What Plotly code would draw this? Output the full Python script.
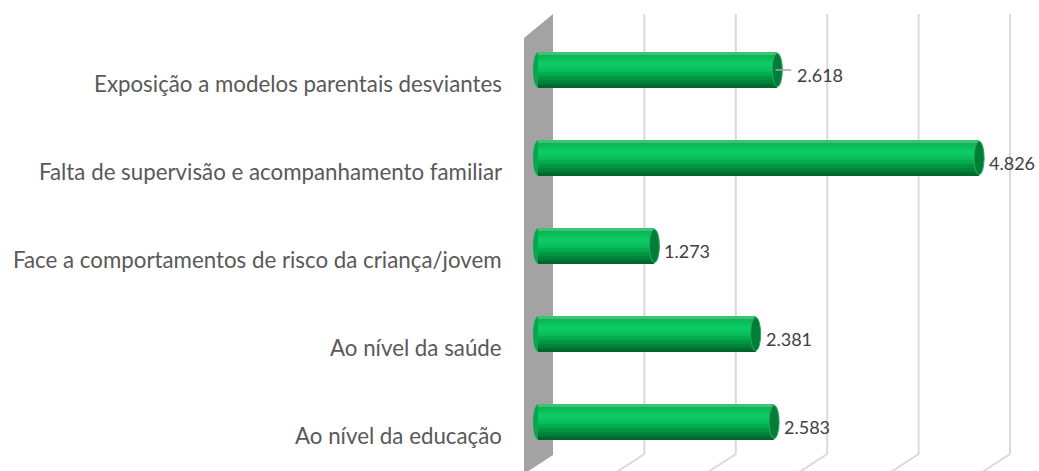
import plotly.graph_objects as go

# ---- data ----
categories = [
    "Ao nível da educação",
    "Ao nível da saúde",
    "Face a comportamentos de risco da criança/jovem",
    "Falta de supervisão e acompanhamento familiar",
    "Exposição a modelos parentais desviantes",
]
values = [2583, 2381, 1273, 4826, 2618]
x_ticks = [0, 1000, 2000, 3000, 4000, 5000]

# ---- style / geometry ----
W, H = 1039, 471
ML = 510
PX_PER_UNIT = 0.0914
X0 = -(538 - ML) / PX_PER_UNIT
X1 = X0 + (W - ML) / PX_PER_UNIT
Y1 = 422 / 88.0
Y0 = Y1 - H / 88.0
BAR_W = 0.40
BACK = 15 / PX_PER_UNIT     # offset of back plane (units)
FRONT = 14 / PX_PER_UNIT    # offset of front plane (units)
CAP = 55                    # half-width of end ellipse (units)

def ypaper(px):
    return 1 - px / H

ys = list(range(len(categories)))

fig = go.Figure()

# cylinder body as stacked colour bands (top -> bottom)
band_colors = ["#3cc474", "#0fb656", "#08bd5a", "#0bc55f", "#0dca62", "#0cc862",
               "#0ac25e", "#07b957", "#04ad50", "#02a049", "#019242", "#00843b",
               "#007633", "#00672c"]
n = len(band_colors)
bw = BAR_W / n
for k, c in enumerate(band_colors):
    off = BAR_W / 2 - (k + 1) * bw
    fig.add_trace(go.Bar(
        x=values, y=ys, orientation="h", width=bw * 1.02, offset=off,
        marker=dict(color=c, line=dict(width=0)), hoverinfo="skip",
        showlegend=False,
    ))

shapes = []
# side wall (grey)
shapes.append(dict(
    type="path", xref="x", yref="paper",
    path=(f"M {-FRONT},{ypaper(38)} L {BACK},{ypaper(14)} L {BACK},{ypaper(455)} "
          f"L {-FRONT},{ypaper(474)} Z"),
    fillcolor="#a3a3a3", line=dict(width=0), layer="below"))
# gridlines (back plane with slanted floor segment)
for t in x_ticks[1:]:
    shapes.append(dict(
        type="path", xref="x", yref="paper",
        path=(f"M {t + BACK},{ypaper(14)} L {t + BACK},{ypaper(454)} "
              f"L {t - FRONT - 20},{ypaper(474)}"),
        line=dict(color="#dadada", width=2), layer="below"))
# left rounded ends of cylinders
for y in ys:
    shapes.append(dict(type="circle", xref="x", yref="y",
                       x0=-CAP, x1=CAP, y0=y - BAR_W / 2, y1=y + BAR_W / 2,
                       fillcolor="#05a84f", line=dict(width=0), layer="below"))
# right end caps
for v, y in zip(values, ys):
    shapes.append(dict(type="circle", xref="x", yref="y",
                       x0=v - CAP, x1=v + CAP, y0=y - BAR_W / 2 + 0.01,
                       y1=y + BAR_W / 2 - 0.01,
                       fillcolor="#007d37", line=dict(color="#2aa860", width=1),
                       layer="above"))

annotations = []
# category labels
for cat, y in zip(categories, ys):
    annotations.append(dict(
        x=0, xref="paper", y=y, yref="y", text=cat, showarrow=False,
        xanchor="right", yanchor="middle", xshift=-6, yshift=-13,
        font=dict(family="Lato", size=22.3, color="#595959")))
# value labels
for v, y in zip(values, ys):
    lead = (v == 2618)
    annotations.append(dict(
        x=v, xref="x", y=y, yref="y", text=f"{v:,}".replace(",", "."),
        showarrow=False, xanchor="left", yanchor="middle",
        xshift=18 if lead else 8, yshift=-5,
        font=dict(family="Lato", size=18, color="#404040")))
    if lead:
        shapes.append(dict(type="line", xref="x", yref="y",
                           x0=v - 20, x1=v + 14 / PX_PER_UNIT, y0=y, y1=y,
                           line=dict(color="#a6a6a6", width=1.5), layer="above"))

fig.update_layout(
    width=W, height=H,
    margin=dict(l=ML, r=0, t=0, b=0),
    paper_bgcolor="white", plot_bgcolor="white",
    barmode="overlay", bargap=0,
    showlegend=False,
    xaxis=dict(range=[X0, X1], showgrid=False, zeroline=False,
               showticklabels=False, fixedrange=True),
    yaxis=dict(range=[Y0, Y1], showgrid=False, zeroline=False,
               showticklabels=False, fixedrange=True),
    shapes=shapes, annotations=annotations,
    separators=",.",
)

fig.write_html("out.html",
               config={"displayModeBar": False, "staticPlot": True},
               post_script="document.body.style.margin='0';document.body.style.overflow='hidden';")
